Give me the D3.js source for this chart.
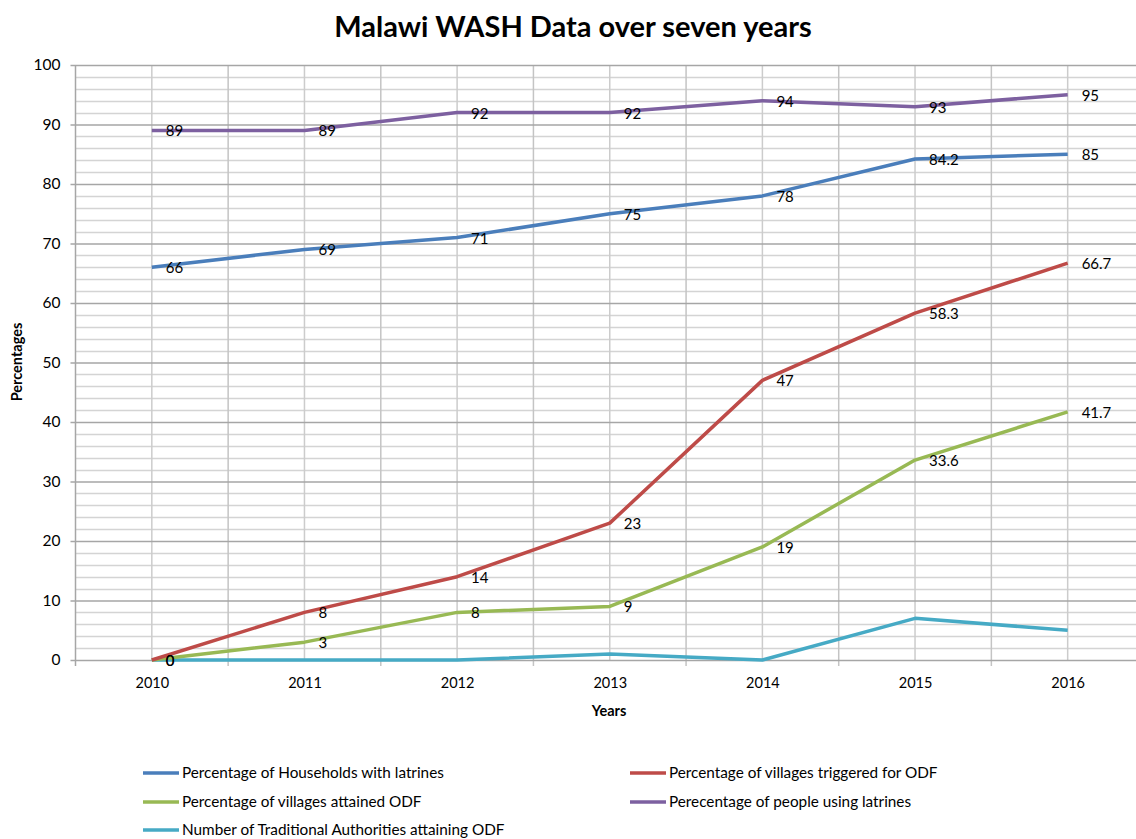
<!DOCTYPE html>
<html>
<head>
<meta charset="utf-8">
<script src="https://cdn.jsdelivr.net/npm/d3@7"></script>
<style>
body { margin: 0; background: #fff; }
text { font-family: Lato, "Open Sans", sans-serif; fill: #000; }
</style>
</head>
<body>
<div id="chart"></div>
<script>
// data
var years = ["2010", "2011", "2012", "2013", "2014", "2015", "2016"];
var households = [66, 69, 71, 75, 78, 84.2, 85];
var triggered = [0, 8, 14, 23, 47, 58.3, 66.7];
var attained = [0, 3, 8, 9, 19, 33.6, 41.7];
var people = [89, 89, 92, 92, 94, 93, 95];
var authorities = [0, 0, 0, 1, 0, 7, 5];
var yTicks = [0, 10, 20, 30, 40, 50, 60, 70, 80, 90, 100];

var series = [
	{name: "Percentage of Households with latrines", values: households, color: "#4a7ebb", labels: true},
	{name: "Percentage of villages triggered for ODF", values: triggered, color: "#be4b48", labels: true},
	{name: "Percentage of villages attained ODF", values: attained, color: "#98b954", labels: true},
	{name: "Perecentage of people using latrines", values: people, color: "#7d60a0", labels: true},
	{name: "Number of Traditional Authorities attaining ODF", values: authorities, color: "#46aac5", labels: false}
];

var W = 1136, H = 839;
var pLeft = 75.5, pRight = 1144, pTop = 65, pBottom = 660;

var svg = d3.select("#chart").append("svg")
	.attr("width", W).attr("height", H);

var x = d3.scalePoint().domain(years).range([pLeft, pRight]).padding(0.5);
var step = x.step();
var y = d3.scaleLinear().domain([0, 100]).range([pBottom, pTop]);

// minor horizontal grid
var minor = d3.range(2, 100, 2).filter(function(v){ return v % 10 !== 0; });
svg.append("g").selectAll("line").data(minor).enter().append("line")
	.attr("x1", pLeft).attr("x2", pRight)
	.attr("y1", function(d){ return Math.round(y(d)) + 0.5; })
	.attr("y2", function(d){ return Math.round(y(d)) + 0.5; })
	.attr("stroke", "#d4d4d4").attr("stroke-width", 1.5);

// vertical grid at centers and boundaries
var bounds = d3.range(0, years.length + 1).map(function(i){ return pLeft + i * step; });
svg.append("g").selectAll("line").data(years).enter().append("line")
	.attr("x1", function(d){ return x(d); }).attr("x2", function(d){ return x(d); })
	.attr("y1", pTop).attr("y2", pBottom)
	.attr("stroke", "#cccccc").attr("stroke-width", 1.5);
svg.append("g").selectAll("line").data(bounds.slice(1)).enter().append("line")
	.attr("x1", function(d){ return d; }).attr("x2", function(d){ return d; })
	.attr("y1", pTop).attr("y2", pBottom + 6)
	.attr("stroke", "#c4c4c4").attr("stroke-width", 1.5);

// major horizontal grid + y axis
var yAxis = d3.axisLeft(y).tickValues(yTicks).tickSize(-(pRight - pLeft)).tickPadding(15);
var gy = svg.append("g").attr("transform", "translate(" + pLeft + ",0)").call(yAxis);
gy.select(".domain").remove();
gy.selectAll(".tick line").attr("stroke", "#a6a6a6").attr("stroke-width", 1.5).attr("x1", -5);
gy.selectAll(".tick text").style("font-size", "15.5px").style("font-family", "Lato, sans-serif").attr("fill", "#000");
svg.append("line").attr("x1", pLeft).attr("x2", pLeft).attr("y1", pTop).attr("y2", pBottom + 6)
	.attr("stroke", "#a6a6a6").attr("stroke-width", 1.5);

// x axis labels
var xAxis = d3.axisBottom(x).tickSize(0).tickPadding(18);
var gx = svg.append("g").attr("transform", "translate(0," + pBottom + ")").call(xAxis);
gx.select(".domain").remove();
gx.selectAll(".tick text").style("font-size", "14.5px").style("font-family", "Lato, sans-serif").attr("fill", "#000");

// lines
var line = d3.line()
	.x(function(d, i){ return x(years[i]); })
	.y(function(d){ return y(d); });

var order = [4, 2, 1, 0, 3];
order.forEach(function(k){
	var s = series[k];
	svg.append("path").datum(s.values)
		.attr("d", line)
		.attr("fill", "none")
		.attr("stroke", s.color)
		.attr("stroke-width", 3.5)
		.attr("stroke-linejoin", "round");
});

// data labels
series.forEach(function(s){
	if (!s.labels) return;
	svg.append("g").selectAll("text").data(s.values).enter().append("text")
		.attr("x", function(d, i){ return x(years[i]) + 14; })
		.attr("y", function(d){ return y(d) + 6; })
		.style("font-size", "15px")
		.text(function(d){ return d; });
});

// titles
svg.append("text").attr("x", 573).attr("y", 37).attr("text-anchor", "middle")
	.style("font-size", "29px").style("font-weight", "bold")
	.text("Malawi WASH Data over seven years");
svg.append("text").attr("x", 609).attr("y", 716).attr("text-anchor", "middle")
	.style("font-size", "14.5px").style("font-weight", "bold").text("Years");
svg.append("text").attr("transform", "translate(22,362) rotate(-90)").attr("text-anchor", "middle")
	.style("font-size", "14.5px").style("font-weight", "bold").text("Percentages");

// legend
var legendPos = [[143, 773], [630, 773], [143, 802], [630, 802], [143, 830]];
series.forEach(function(s, i){
	var g = svg.append("g").attr("transform", "translate(" + legendPos[i][0] + "," + legendPos[i][1] + ")");
	g.append("line").attr("x1", 0).attr("x2", 36).attr("y1", 0).attr("y2", 0)
		.attr("stroke", s.color).attr("stroke-width", 3.5);
	g.append("text").attr("x", 39).attr("y", 5).style("font-size", "15.3px").text(s.name);
});
</script>
</body>
</html>
